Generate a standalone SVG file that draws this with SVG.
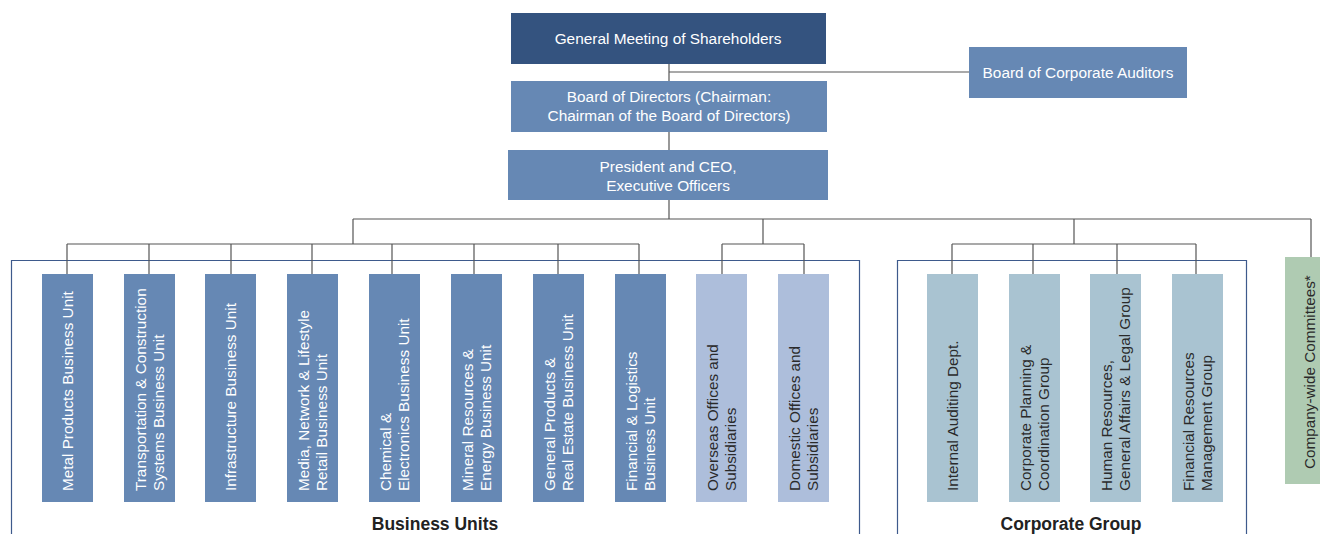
<svg xmlns="http://www.w3.org/2000/svg" width="1320" height="534" viewBox="0 0 1320 534">
<style>
.dark{fill:#34537f}
.mid{fill:#6688b4}
.light{fill:#adbedb}
.corp{fill:#a9c3d1}
.green{fill:#afcbb2}
text{font-family:"Liberation Sans",Arial,sans-serif}
.ht{font-size:15.4px;fill:#ffffff;text-anchor:middle}
.vt{font-size:15.3px;fill:#ffffff}
.vd{font-size:15.3px;fill:#2a2a2a}
.lbl{font-size:17.5px;font-weight:bold;fill:#222;text-anchor:middle}
.ln{stroke:#555;stroke-width:1.2;fill:none}
.fr{stroke:#3e5a8c;stroke-width:1.2;fill:none}
</style>
<rect width="1320" height="534" fill="#ffffff"/>
<g id="frames">
<path class="fr" d="M11.5,540 V260.5 H859.5 V540"/>
<path class="fr" d="M897.5,540 V260.5 H1246.5 V540"/>
</g>
<g id="connectors">
<path class="ln" d="M669,64 V81 M669,72 H969 M669,132 V150 M669,200 V219 M353,219 H1311"/>
<path class="ln" d="M353,219 V244 M67,244 H639 M67,244 V274 M149,244 V274 M231,244 V274 M312,244 V274 M392,244 V274 M474,244 V274 M558,244 V274 M639,244 V274"/>
<path class="ln" d="M763,219 V244 M722,244 H804 M722,244 V274 M804,244 V274"/>
<path class="ln" d="M1074,219 V244 M952,244 H1196 M952,244 V274 M1033,244 V274 M1117,244 V274 M1196,244 V274"/>
<path class="ln" d="M1311,219 V257"/>
</g>
<g id="gms"><rect class="dark" x="511" y="13" width="315" height="51"/><text class="ht" x="668" y="44">General Meeting of Shareholders</text></g>
<g id="auditors"><rect class="mid" x="969" y="47" width="218" height="51"/><text class="ht" x="1078" y="78">Board of Corporate Auditors</text></g>
<g id="board"><rect class="mid" x="511" y="81" width="316" height="51"/><text class="ht" x="669" y="102">Board of Directors (Chairman:</text><text class="ht" x="669" y="121">Chairman of the Board of Directors)</text></g>
<g id="ceo"><rect class="mid" x="508" y="150" width="320" height="50"/><text class="ht" x="668" y="172">President and CEO,</text><text class="ht" x="668" y="191">Executive Officers</text></g>

<g id="bu-metal"><rect class="mid" x="42" y="274" width="51" height="228"/><text class="vt" transform="translate(73,491) rotate(-90)">Metal Products Business Unit</text></g>
<g id="bu-transport"><rect class="mid" x="124" y="274" width="51" height="228"/><text class="vt" transform="translate(146,491) rotate(-90)"><tspan x="0">Transportation &amp; Construction</tspan><tspan x="0" dy="18">Systems Business Unit</tspan></text></g>
<g id="bu-infra"><rect class="mid" x="205" y="274" width="51" height="228"/><text class="vt" transform="translate(236,491) rotate(-90)">Infrastructure Business Unit</text></g>
<g id="bu-media"><rect class="mid" x="287" y="274" width="51" height="228"/><text class="vt" transform="translate(309,491) rotate(-90)"><tspan x="0">Media, Network &amp; Lifestyle</tspan><tspan x="0" dy="18">Retail Business Unit</tspan></text></g>
<g id="bu-chemical"><rect class="mid" x="369" y="274" width="51" height="228"/><text class="vt" transform="translate(391,491) rotate(-90)"><tspan x="0">Chemical &amp;</tspan><tspan x="0" dy="18">Electronics Business Unit</tspan></text></g>
<g id="bu-mineral"><rect class="mid" x="451" y="274" width="51" height="228"/><text class="vt" transform="translate(473,491) rotate(-90)"><tspan x="0">Mineral Resources &amp;</tspan><tspan x="0" dy="18">Energy Business Unit</tspan></text></g>
<g id="bu-general"><rect class="mid" x="533" y="274" width="51" height="228"/><text class="vt" transform="translate(555,491) rotate(-90)"><tspan x="0">General Products &amp;</tspan><tspan x="0" dy="18">Real Estate Business Unit</tspan></text></g>
<g id="bu-financial"><rect class="mid" x="615" y="274" width="51" height="228"/><text class="vt" transform="translate(637,491) rotate(-90)"><tspan x="0">Financial &amp; Logistics</tspan><tspan x="0" dy="18">Business Unit</tspan></text></g>
<g id="overseas"><rect class="light" x="696" y="274" width="51" height="228"/><text class="vd" transform="translate(718,491) rotate(-90)"><tspan x="0">Overseas Offices and</tspan><tspan x="0" dy="18">Subsidiaries</tspan></text></g>
<g id="domestic"><rect class="light" x="778" y="274" width="51" height="228"/><text class="vd" transform="translate(800,491) rotate(-90)"><tspan x="0">Domestic Offices and</tspan><tspan x="0" dy="18">Subsidiaries</tspan></text></g>

<g id="cg-audit"><rect class="corp" x="927" y="274" width="51" height="228"/><text class="vd" transform="translate(958,491) rotate(-90)">Internal Auditing Dept.</text></g>
<g id="cg-planning"><rect class="corp" x="1009" y="274" width="51" height="228"/><text class="vd" transform="translate(1031,491) rotate(-90)"><tspan x="0">Corporate Planning &amp;</tspan><tspan x="0" dy="18">Coordination Group</tspan></text></g>
<g id="cg-hr"><rect class="corp" x="1090" y="274" width="51" height="228"/><text class="vd" transform="translate(1112,491) rotate(-90)"><tspan x="0">Human Resources,</tspan><tspan x="0" dy="18">General Affairs &amp; Legal Group</tspan></text></g>
<g id="cg-finance"><rect class="corp" x="1172" y="274" width="51" height="228"/><text class="vd" transform="translate(1194,491) rotate(-90)"><tspan x="0">Financial Resources</tspan><tspan x="0" dy="18">Management Group</tspan></text></g>

<g id="committees"><rect class="green" x="1285" y="257" width="51" height="227"/><text class="vd" transform="translate(1315,469) rotate(-90)">Company-wide Committees*</text></g>

<g id="labels">
<text class="lbl" x="435" y="530">Business Units</text>
<text class="lbl" x="1071" y="530">Corporate Group</text>
</g>
</svg>
